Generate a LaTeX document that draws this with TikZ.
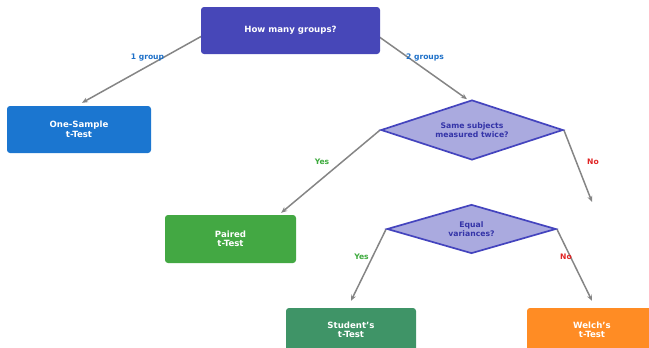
\documentclass[tikz,border=0pt]{standalone}
\usepackage{fontspec}
\setmainfont{DejaVu Sans}
\usetikzlibrary{shapes.geometric,arrows.meta,backgrounds}
\definecolor{cTop}{HTML}{4747B8}
\definecolor{cOne}{HTML}{1B76D0}
\definecolor{cPaired}{HTML}{43A843}
\definecolor{cStudent}{HTML}{3F9467}
\definecolor{cWelch}{HTML}{FF8C24}
\definecolor{cDiaFill}{HTML}{AAAADF}
\definecolor{cDiaDraw}{HTML}{4444BE}
\definecolor{cDiaText}{HTML}{3434A8}
\definecolor{cArrow}{HTML}{858585}
\definecolor{cBlue}{HTML}{1E70C8}
\definecolor{cGreen}{HTML}{3DAA3D}
\definecolor{cRed}{HTML}{E02424}
\begin{document}
\begin{tikzpicture}[x=1pt,y=-1pt,
  procbox/.style={rectangle, rounded corners=3pt, inner sep=0pt, align=center,
    text=white, font=\fontsize{8.6}{9.5}\selectfont\bfseries},
  decision/.style={diamond, aspect=3, inner sep=0pt, align=center, draw=cDiaDraw, line width=1.7pt,
    fill=cDiaFill, text=cDiaText, font=\fontsize{7.7}{8.8}\selectfont\bfseries},
  flow/.style={draw=cArrow, line width=1.5pt, -{Stealth[length=6pt,width=5pt]}},
  lbl/.style={font=\fontsize{7.6}{9}\selectfont\bfseries, inner sep=0pt}]
\useasboundingbox (0,0) rectangle (649,348);
\node[procbox, fill=cTop, minimum width=179pt, minimum height=47pt] (top) at (290.5,30.5) {How many groups?};
\node[procbox, fill=cOne, minimum width=144pt, minimum height=47pt] (one) at (79,129.5) {One-Sample\\t-Test};
\node[decision, minimum width=182pt, minimum height=60pt] (d1) at (472,130) {Same subjects\\measured twice?};
\node[procbox, fill=cPaired, minimum width=131pt, minimum height=48pt] (paired) at (230.5,239) {Paired\\t-Test};
\node[decision, minimum width=169pt, minimum height=49pt] (d2) at (471.5,229) {Equal\\variances?};
\node[procbox, fill=cStudent, minimum width=130pt, minimum height=44pt] (student) at (351,330) {Student's\\t-Test};
\node[procbox, fill=cWelch, minimum width=130pt, minimum height=44pt] (welch) at (592,330) {Welch's\\t-Test};
\coordinate (noend) at (592,202);
\begin{scope}[on background layer]
\draw[flow] ([xshift=11pt]top.west) -- ([shift={(3pt,3pt)}]one.north);
\draw[flow] ([xshift=-10pt]top.east) -- ([xshift=-5pt]d1.north);
\draw[flow] (d1.west) -- ([shift={(-15pt,2pt)}]paired.north east);
\draw[flow] (d1.east) -- (noend);
\draw[flow] (d2.west) -- ([yshift=7pt]student.north);
\draw[flow] (d2.east) -- ([yshift=7pt]welch.north);
\end{scope}
\node[lbl, text=cBlue] (l1) at (147.5,57.5) {1 group};
\node[lbl, text=cBlue] (l2) at (425,57.5) {2 groups};
\node[lbl, text=cGreen] (y1) at (322,162) {Yes};
\node[lbl, text=cRed] (n1) at (593,162) {No};
\node[lbl, text=cGreen] (y2) at (361.5,257) {Yes};
\node[lbl, text=cRed] (n2) at (566,257) {No};
\end{tikzpicture}
\end{document}
